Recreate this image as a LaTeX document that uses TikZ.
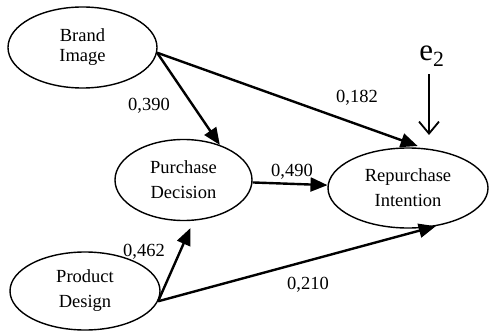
\documentclass[tikz,border=0pt]{standalone}
\usepackage{fontspec}
\setmainfont{Liberation Serif}
\usetikzlibrary{arrows.meta,shapes.geometric}

\begin{document}
\begin{tikzpicture}[x=1pt,y=-1pt,
		var/.style={draw,ellipse,line width=1.4pt,inner sep=0pt,align=center,font=\fontsize{18.5}{25}\selectfont},
		path/.style={line width=2.4pt,-{Triangle[length=17pt,width=14pt]}},
		errarrow/.style={line width=1.8pt,-{Straight Barb[length=12pt,width=20pt]}},
		coef/.style={inner sep=0pt,font=\fontsize{18.5}{22}\selectfont}]
				\useasboundingbox (0,0) rectangle (489,331); % marges
				\node[var,minimum width=149pt,minimum height=81pt] (bi) at (82.5,47.5) {Brand\\[-5pt]Image};
				\node[var,minimum width=137pt,minimum height=81pt] (pd) at (183.5,180) {Purchase\\Decision};
				\node[var,minimum width=150pt,minimum height=78pt] (pdn) at (85,291) {Product\\Design};
				\node[var,minimum width=160pt,minimum height=80pt] (ri) at (408,188) {Repurchase\\Intention};
				\node[inner sep=0pt,font=\fontsize{31}{31}\selectfont] (e2) at (432,56) {e\textsubscript{2}};
				\coordinate (e2tip) at (429,135);
				\draw[path] (bi.-4) -- (pd.44);
				\draw[path,shorten >=6pt] (bi.-4) -- (ri.69);
				\draw[path] (pd) -- (ri);
				\draw[path,shorten >=8pt] (pdn.-8) -- (pd.-76);
				\draw[path] (pdn.-8) -- (ri.-54);
				\draw[errarrow] ([yshift=-8pt]e2.south -| e2tip) -- (e2tip); % erreur
				\node[coef] (c1) at (149,106) {0,390};
				\node[coef] (c2) at (357,98) {0,182};
				\node[coef] (c3) at (292,172) {0,490};
				\node[coef] (c4) at (144,252) {0,462};
				\node[coef] (c5) at (308,285) {0,210};
			\end{tikzpicture}
\end{document}
